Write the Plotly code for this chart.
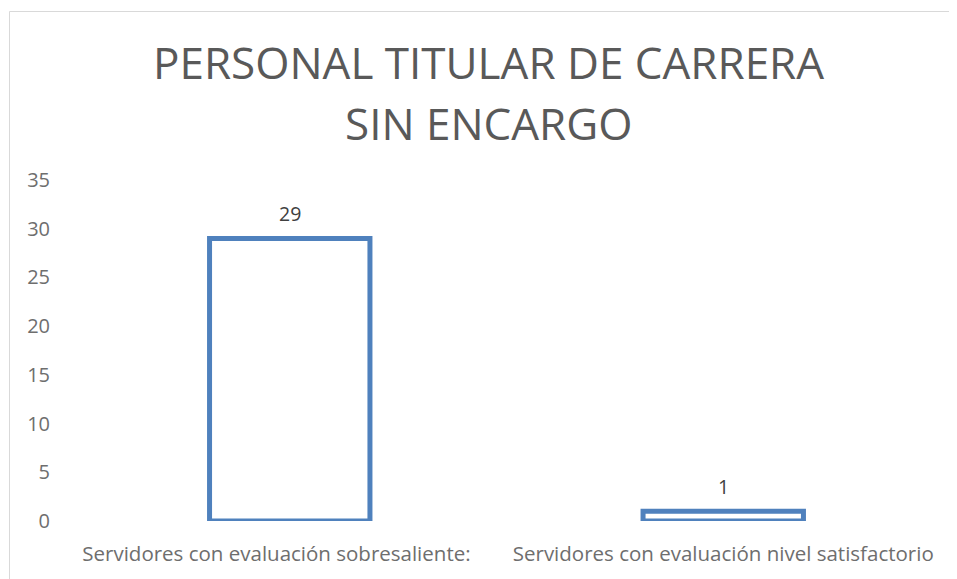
import plotly.graph_objects as go

categories = ["Servidores con evaluación sobresaliente:", "Servidores con evaluación nivel satisfactorio"]
category_labels = ["Servidores con evaluación sobresaliente:\u00a0\u00a0\u00a0\u00a0\u00a0",
                   "Servidores con evaluación nivel satisfactorio"]
values = [29, 1]
y_ticks = [0, 5, 10, 15, 20, 25, 30, 35]
title_lines = ["PERSONAL TITULAR DE CARRERA", "SIN ENCARGO"]

FONT = "Open Sans"
OFF = 8  # page body margin
W, H = 957 - OFF, 579 - OFF
L, R, T, B = 73 - OFF, 17, 180 - OFF, 56
pw, ph = W - L - R, H - T - B

def px_x(x):  # reference x pixel -> paper coordinate
    return (x - OFF - L) / pw

def px_y(y):  # reference y pixel -> paper coordinate
    return ((H - B) - (y - OFF)) / ph

fig = go.Figure()
fig.add_trace(go.Bar(
    x=categories, y=values,
    width=0.37,
    marker=dict(color="rgba(0,0,0,0)", line=dict(color="#4F81BD", width=5)),
    hoverinfo="skip",
))

for c, v in zip(categories, values):
    fig.add_annotation(x=c, y=v, text=str(v), showarrow=False, yanchor="middle",
                       yshift=25, font=dict(family=FONT, size=19.5, color="#404040"))

for line, ty in zip(title_lines, [61, 123]):
    fig.add_annotation(xref="paper", yref="paper", x=px_x(488), y=px_y(ty),
                       text=line, showarrow=False, yanchor="middle", xanchor="center",
                       font=dict(family=FONT, size=44, color="#595959"))

# chart area border
fig.add_shape(type="rect", xref="paper", yref="paper",
              x0=px_x(9.5), x1=px_x(990), y0=px_y(620), y1=px_y(10.5),
              line=dict(color="#D9D9D9", width=1), fillcolor="rgba(0,0,0,0)")

fig.update_layout(
    width=W, height=H,
    margin=dict(l=L, r=R, t=T, b=B),
    paper_bgcolor="white", plot_bgcolor="white",
    showlegend=False,
    xaxis=dict(showgrid=False, showline=False, zeroline=False, ticks="",
               tickvals=categories, ticktext=category_labels,
               tickfont=dict(family=FONT, size=20.5, color="#6E6E6E"), ticklabelstandoff=18),
    yaxis=dict(range=[0, 35], tickvals=y_ticks, showgrid=False, showline=False, zeroline=False,
               ticks="", tickfont=dict(family=FONT, size=20, color="#6E6E6E"), ticklabelstandoff=22),
)

fig.write_html("out.html")
